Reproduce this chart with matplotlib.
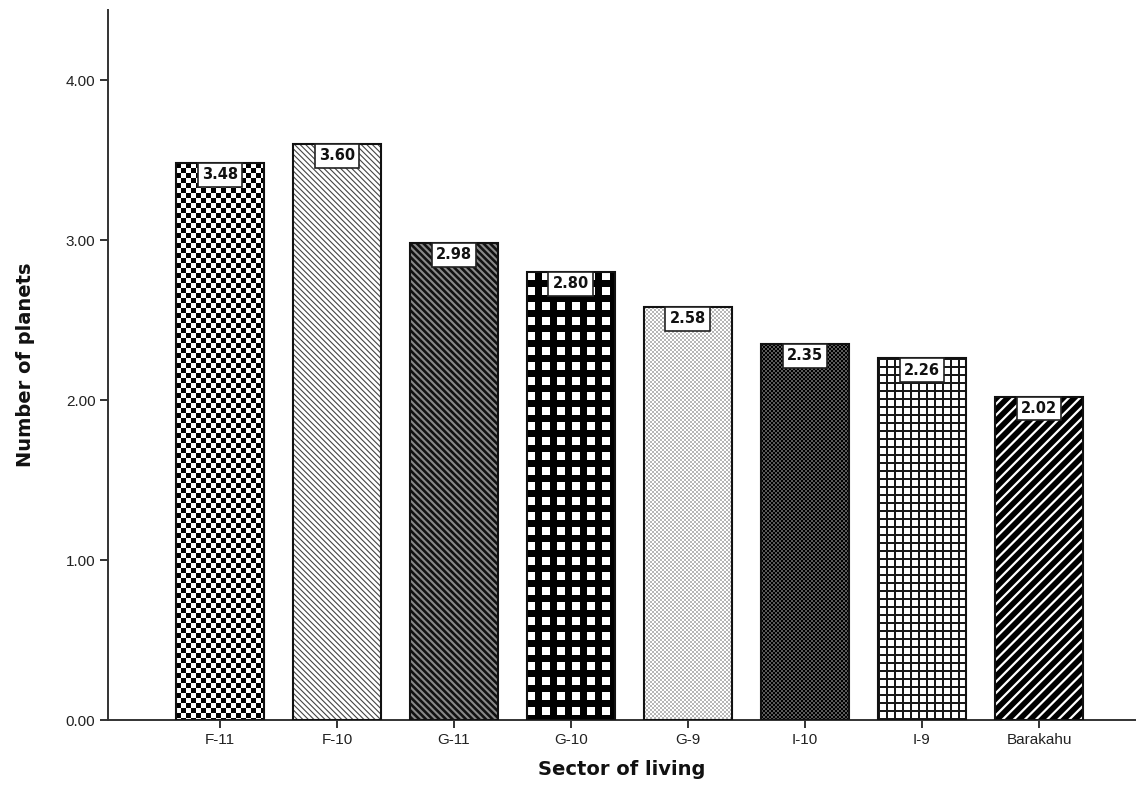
import numpy as np
import matplotlib
matplotlib.use("Agg")
import matplotlib.pyplot as plt

categories = ["F-11", "F-10", "G-11", "G-10", "G-9", "I-10", "I-9", "Barakahu"]
values = [3.48, 3.60, 2.98, 2.80, 2.58, 2.35, 2.26, 2.02]
yticks = [0.0, 1.0, 2.0, 3.0, 4.0]

W, H = 1136, 797
fig = plt.figure(figsize=(W / 100, H / 100), dpi=100)
ax = fig.add_axes([108 / W, 77 / H, 1 - 108 / W, 710 / H])
ax.set_xlim(-0.957, 7.829)
ax.set_ylim(0, 4.4375)

x = np.arange(len(categories))
bw = 0.752

def checker(h, w, period, c1, c2):
    yy, xx = np.mgrid[0:h, 0:w]
    half = period // 2
    m = ((xx // half) + (yy // half)) % 2 == 0
    return np.where(m[..., None], np.array(c1)[None, None, :], np.array(c2)[None, None, :])

def squares(h, w, period, sq, bg, fg):
    yy, xx = np.mgrid[0:h, 0:w]
    m = ((xx % period) < sq) & ((yy % period) < sq)
    return np.where(m[..., None], np.array(fg)[None, None, :], np.array(bg)[None, None, :])

def grid(h, w, period, lw, bg, fg):
    yy, xx = np.mgrid[0:h, 0:w]
    m = ((xx % period) < lw) | ((yy % period) < lw)
    return np.where(m[..., None], np.array(fg)[None, None, :], np.array(bg)[None, None, :])

black = [0.0, 0.0, 0.0]
white = [1.0, 1.0, 1.0]

textures = {
    0: lambda h, w: checker(h, w, 10, black, white),
    3: lambda h, w: squares(h, w, 15, 8, black, white),
    4: lambda h, w: checker(h, w, 4, [0.72] * 3, white),
    5: lambda h, w: checker(h, w, 4, black, [0.35] * 3),
    6: lambda h, w: grid(h, w, 8, 2, white, [0.1] * 3),
}
hatch_specs = {
    1: dict(face="white", hcol="#444444", hatch="\\" * 6, hlw=0.8),
    2: dict(face="#8a8a8a", hcol="#111111", hatch="\\" * 5, hlw=1.9),
    7: dict(face="black", hcol="white", hatch="/" * 3, hlw=1.6),
}

for i, (xi, v) in enumerate(zip(x, values)):
    if i in hatch_specs:
        s = hatch_specs[i]
        plt.rcParams["hatch.linewidth"] = s["hlw"]
        b = ax.bar(xi, v, width=bw, color=s["face"], edgecolor=s["hcol"],
                   hatch=s["hatch"], linewidth=0, zorder=2)
    else:
        b = ax.bar(xi, v, width=bw, color="white", linewidth=0, zorder=2)
        rect = b[0]
        x0, y0 = rect.get_x(), rect.get_y()
        x1, y1 = x0 + rect.get_width(), y0 + rect.get_height()
        p0 = ax.transData.transform((x0, y0))
        p1 = ax.transData.transform((x1, y1))
        wpx = int(round(p1[0] - p0[0]))
        hpx = int(round(p1[1] - p0[1]))
        img = textures[i](hpx, wpx)
        im = ax.imshow(img, extent=(x0, x1, y0, y1), origin="upper",
                       interpolation="nearest", aspect="auto", zorder=2.5)
        im.set_clip_path(rect)
    ax.bar(xi, v, width=bw, fill=False, edgecolor="#111111", linewidth=1.5, zorder=3)
    ax.annotate(f"{v:.2f}", xy=(xi, v), xytext=(0, -3), textcoords="offset points",
                ha="center", va="top", fontsize=10.5, fontweight="bold", color="#111111",
                family="DejaVu Sans",
                bbox=dict(boxstyle="square,pad=0.3", fc="white", ec="#222222", lw=1.2),
                zorder=5)

ax.set_xticks(x)
ax.set_xticklabels(categories, fontsize=11, color="#222222", family="Liberation Sans")
ax.set_yticks(yticks)
ax.set_yticklabels([f"{t:.2f}" for t in yticks], fontsize=11, color="#222222",
                   family="Liberation Sans")
ax.tick_params(axis="both", direction="out", length=6, width=1.4, color="#333333", pad=3)

for sp in ["top", "right"]:
    ax.spines[sp].set_visible(False)
for sp in ["left", "bottom"]:
    ax.spines[sp].set_linewidth(1.4)
    ax.spines[sp].set_color("#333333")

ax.set_ylabel("Number of planets", fontsize=14, fontweight="bold", color="#111111", labelpad=22)
ax.set_xlabel("Sector of living", fontsize=14, fontweight="bold", color="#111111", labelpad=10)

fig.savefig("out.png", dpi=100)
